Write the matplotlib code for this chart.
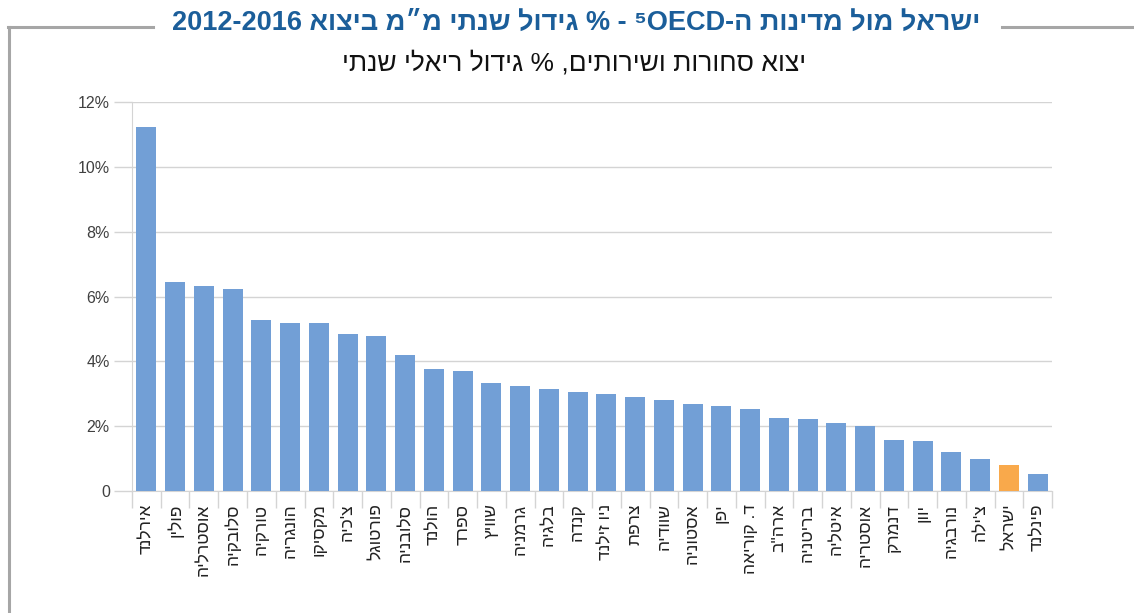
import re
import numpy as np
import matplotlib
matplotlib.use("Agg")
import matplotlib.pyplot as plt
from matplotlib.lines import Line2D

plt.rcParams['font.family'] = ['Liberation Sans', 'DejaVu Sans']

# data
countries = ["אירלנד", "פולין", "אוסטרליה", "סלובקיה", "טורקיה", "הונגריה", "מקסיקו",
             "צ'כיה", "פורטוגל", "סלובניה", "הולנד", "ספרד", "שוויץ", "גרמניה", "בלגיה",
             "קנדה", "ניו זילנד", "צרפת", "שוודיה", "אסטוניה", "יפן", "ד. קוריאה",
             "ארה\"ב", "בריטניה", "איטליה", "אוסטריה", "דנמרק", "יוון", "נורבגיה",
             "צ'ילה", "ישראל", "פינלנד"]
growth = [11.23, 6.45, 6.33, 6.23, 5.28, 5.19, 5.19, 4.85, 4.78, 4.20, 3.77, 3.70,
          3.33, 3.24, 3.15, 3.06, 2.99, 2.90, 2.81, 2.69, 2.62, 2.53, 2.25, 2.22,
          2.10, 2.01, 1.57, 1.54, 1.20, 0.99, 0.80, 0.52]
highlight = "ישראל"

title = "ישראל מול מדינות ה-OECD⁵ - % גידול שנתי מ״מ ביצוא 2012-2016"
subtitle = "יצוא סחורות ושירותים, % גידול ריאלי שנתי"


def rtl(s):
    # matplotlib has no bidi: flip the string, then put latin/digit runs back
    r = s[::-1]
    return re.sub(r"[0-9A-Za-z]+(?:-[0-9A-Za-z]+)*", lambda m: m.group(0)[::-1], r)


blue = "#729fd6"
orange = "#f9a94b"
grid_c = "#d4d4d4"

fig = plt.figure(figsize=(11.34, 6.13), dpi=100)
ax = fig.add_axes([0.1164, 0.199, 0.8113, 0.6346])

x = np.arange(len(countries))
colors = [orange if c == highlight else blue for c in countries]
ax.bar(x, growth, width=0.7, color=colors, zorder=3)

ax.set_xlim(-0.5, len(countries) - 0.5)
ax.set_ylim(0, 12)
ax.set_yticks(np.arange(0, 13, 2))
ax.set_yticklabels(["0" if v == 0 else f"{v}%" for v in range(0, 13, 2)],
                   fontsize=11.5, color="#404040")
ax.yaxis.grid(True, color=grid_c, linewidth=1, zorder=0)

ax.set_xticks(x)
ax.set_xticklabels([rtl(c) for c in countries], rotation=90, fontsize=12.5,
                   color="#222222", va="top", ha="center")
ax.set_xticks(np.arange(-0.5, len(countries)), minor=True)
ax.tick_params(axis="x", which="major", length=0, pad=9)
ax.tick_params(axis="x", which="minor", length=12, color=grid_c, width=1)
ax.tick_params(axis="y", length=13, color=grid_c, width=1, pad=3)

for s in ["top", "right"]:
    ax.spines[s].set_visible(False)
ax.spines["left"].set_color(grid_c)
ax.spines["bottom"].set_color(grid_c)

# titles
fig.text(0.508, 0.962, rtl(title), ha="center", va="center", fontsize=19.5,
         fontweight="bold", color="#1b5e9a")
fig.text(0.506, 0.897, rtl(subtitle), ha="center", va="center", fontsize=19,
         color="#111111")

# frame around the chart
fc = "#a6a6a6"
fig.add_artist(Line2D([0.008, 0.008], [0.0, 0.956], color=fc, lw=2.2, transform=fig.transFigure))
fig.add_artist(Line2D([0.007, 0.135], [0.956, 0.956], color=fc, lw=2.2, transform=fig.transFigure))
fig.add_artist(Line2D([0.884, 1.0], [0.956, 0.956], color=fc, lw=2.2, transform=fig.transFigure))

fig.savefig("out.png", dpi=100)
